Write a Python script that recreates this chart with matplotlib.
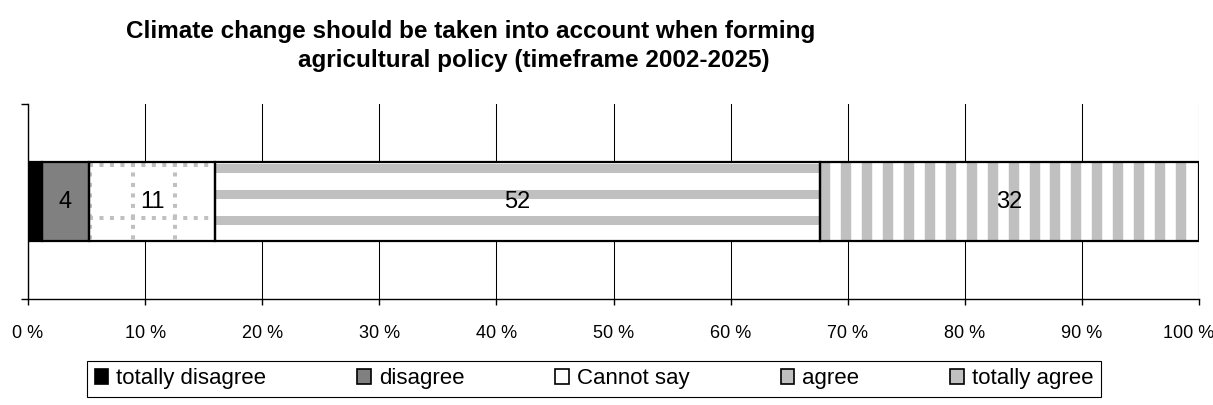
import matplotlib.pyplot as plt
import numpy as np
from matplotlib.patches import Patch
from matplotlib.transforms import ScaledTranslation

plt.rcParams['font.family'] = ['Liberation Sans', 'DejaVu Sans']

# data
categories = ['totally disagree', 'disagree', 'Cannot say', 'agree', 'totally agree']
values = [1.2, 4.0, 10.8, 51.6, 32.4]
ticks = list(range(0, 101, 10))
tick_labels = [f'{t} %' for t in ticks]
title1 = 'Climate change should be taken into account when forming'
title2 = 'agricultural policy (timeframe 2002-2025)'

silver = '#C0C0C0'
colors = ['black', '#808080', 'white', 'white', 'white']

fig = plt.figure(figsize=(12.13, 4.05), dpi=100)
ax = fig.add_axes([0.0231, 0.2617, 0.9654, 0.4815])

bar_h = 0.405
top, bot = bar_h / 2, -bar_h / 2
lefts = np.concatenate([[0], np.cumsum(values)[:-1]])
bars = ax.barh(0, values, left=lefts, height=bar_h, color=colors,
               edgecolor='none', zorder=2)

# Cannot say -> dotted grid
x0, w = lefts[2], values[2]
for yy in np.arange(top - 0.015, bot, -0.272):
    ln, = ax.plot([x0, x0 + w], [yy, yy], color=silver, lw=2.9,
                  ls=(0, (1, 1.6)), zorder=2.5)
    ln.set_clip_path(bars[2])
for xx in np.arange(x0 + 0.09, x0 + w, 3.65):
    ln, = ax.plot([xx, xx], [top, bot], color=silver, lw=2.9,
                  ls=(0, (1, 1.6)), zorder=2.5)
    ln.set_clip_path(bars[2])

# agree -> horizontal stripes
ys = np.arange(top - 0.031, bot, -0.133)
lc = ax.hlines(ys, lefts[3], lefts[3] + values[3], color=silver, lw=6.5, zorder=2.5)
lc.set_clip_path(bars[3])

# totally agree -> vertical stripes
xs = np.arange(lefts[4] + 0.45, lefts[4] + values[4], 1.79)
lc = ax.vlines(xs, bot, top, color=silver, lw=7.5, zorder=2.5)
lc.set_clip_path(bars[4])

# borders on top
outline = ax.barh(0, values, left=lefts, height=bar_h, fill=False,
                  edgecolor='black', lw=1.6, zorder=3)
ax.bar_label(outline, labels=[f'{v:.0f}' if v >= 2 else '' for v in values],
             label_type='center', fontsize=17, zorder=4)

ax.set_xlim(0, 100)
ax.set_ylim(-0.5, 0.5)
ax.set_xticks(ticks, tick_labels, fontsize=13)
ax.set_yticks([-0.5, 0.5], ['', ''])
ax.tick_params(axis='x', direction='out', length=4, pad=15, width=1)
ax.tick_params(axis='y', direction='out', length=5, width=1)
ax.grid(axis='x', color='black', lw=0.75)
ax.set_axisbelow(True)
ax.spines['top'].set_visible(False)
ax.spines['right'].set_visible(False)
ax.spines['left'].set_linewidth(1)
ax.spines['bottom'].set_linewidth(1)

# keep "100 %" inside the figure
last = ax.get_xticklabels()[-1]
last.set_transform(last.get_transform() + ScaledTranslation(-0.1, 0, fig.dpi_scale_trans))

fig.text(0.388, 0.921, title1, ha='center', va='center', fontsize=17.5, fontweight='bold')
fig.text(0.440, 0.850, title2, ha='center', va='center', fontsize=17.5, fontweight='bold')

handles = [Patch(facecolor=c, edgecolor='black', lw=1.2)
           for c in ['black', '#808080', 'white', silver, silver]]
leg = fig.legend(handles, categories, loc='center', bbox_to_anchor=(0.4897, 0.0642),
                 ncol=5, fontsize=16, frameon=True, fancybox=False, edgecolor='black',
                 framealpha=1, handlelength=0.62, handleheight=0.62, handletextpad=0.35,
                 columnspacing=4.1, borderpad=0.35)
leg.get_frame().set_linewidth(0.8)

fig.savefig('out.png', dpi=100)
